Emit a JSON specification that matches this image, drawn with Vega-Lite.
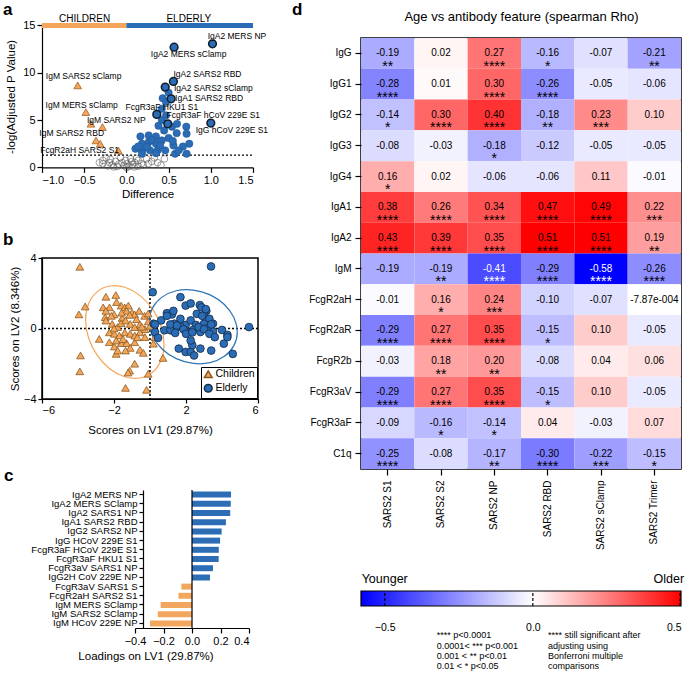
{
"$schema": "https://vega.github.io/schema/vega-lite/v6.json",
"padding": {"left": 2, "top": 0, "right": 0, "bottom": 0},
"columns": 2,
"align": "none",
"spacing": 22,
"resolve": {"scale": {"color": "independent", "fill": "independent", "stroke": "independent", "shape": "independent"}, "legend": {"color": "independent", "fill": "independent", "stroke": "independent", "shape": "independent"}},
"config": {
 "font": "Liberation Sans",
 "view": {"stroke": null},
 "axis": {"domainColor": "black", "tickColor": "black", "labelColor": "black", "titleColor": "black", "labelFontSize": 11, "titleFontSize": 11.5, "titleFontWeight": "normal", "grid": false, "tickSize": 5, "domainWidth": 1.2, "tickWidth": 1.2, "labelPadding": 2},
 "title": {"fontSize": 17, "fontWeight": "bold", "color": "black", "anchor": "start"}
},
"datasets": {
 "vbar": [{"g": "CHILDREN", "x1": -1, "x2": 0, "tx": -0.495, "ty": 15.7}, {"g": "ELDERLY", "x1": 0, "x2": 1.5, "tx": 0.74, "ty": 15.7}],
 "volcano": [
  {"d":-0.28,"p":0.74,"g":"N"},{"d":-0.24,"p":1.0,"g":"N"},{"d":-0.2,"p":0.52,"g":"N"},{"d":-0.13,"p":0.63,"g":"N"},{"d":-0.09,"p":0.35,"g":"N"},{"d":-0.03,"p":0.2,"g":"N"},{"d":0.01,"p":0.4,"g":"N"},{"d":0.07,"p":0.3,"g":"N"},{"d":0.1,"p":0.5,"g":"N"},{"d":0.14,"p":0.74,"g":"N"},{"d":0.18,"p":0.4,"g":"N"},{"d":0.24,"p":0.9,"g":"N"},{"d":0.3,"p":0.63,"g":"N"},{"d":0.37,"p":0.5,"g":"N"},{"d":0.45,"p":0.9,"g":"N"},{"d":-0.17,"p":0.25,"g":"N"},{"d":-0.11,"p":0.1,"g":"N"},{"d":-0.05,"p":0.5,"g":"N"},{"d":0.03,"p":0.1,"g":"N"},{"d":0.09,"p":0.05,"g":"N"},{"d":0.14,"p":0.12,"g":"N"},{"d":0.2,"p":0.25,"g":"N"},{"d":0.26,"p":0.4,"g":"N"},{"d":-0.28,"p":0.4,"g":"N"},{"d":-0.22,"p":0.15,"g":"N"},{"d":-0.01,"p":0.74,"g":"N"},{"d":0.05,"p":0.9,"g":"N"},{"d":-0.07,"p":1.05,"g":"N"},{"d":0.33,"p":1.0,"g":"N"},{"d":0.41,"p":0.25,"g":"N"},{"d":-0.32,"p":0.5,"g":"N"},{"d":-0.15,"p":0.05,"g":"N"},{"d":0.0,"p":0.0,"g":"N"},{"d":0.06,"p":0.6,"g":"N"},{"d":0.12,"p":0.95,"g":"N"},{"d":-0.19,"p":0.85,"g":"N"},
  {"d":0.43,"p":7.3,"g":"E"},{"d":0.5,"p":7.9,"g":"E"},{"d":0.47,"p":6.9,"g":"E"},{"d":0.42,"p":6.2,"g":"E"},{"d":0.47,"p":5.5,"g":"E"},{"d":0.42,"p":5.0,"g":"E"},{"d":0.54,"p":4.3,"g":"E"},{"d":0.71,"p":4.3,"g":"E"},{"d":0.166,"p":3.27,"g":"E"},{"d":0.264,"p":3.38,"g":"E"},{"d":0.35,"p":3.27,"g":"E"},{"d":0.447,"p":3.9,"g":"E"},{"d":0.596,"p":3.62,"g":"E"},{"d":0.713,"p":3.55,"g":"E"},{"d":0.745,"p":2.5,"g":"E"},{"d":0.557,"p":2.32,"g":"E"},{"d":0.67,"p":2.2,"g":"E"},{"d":0.185,"p":2.5,"g":"E"},{"d":0.264,"p":2.67,"g":"E"},{"d":0.35,"p":2.5,"g":"E"},{"d":0.42,"p":2.85,"g":"E"},{"d":0.5,"p":3.1,"g":"E"},{"d":0.185,"p":1.72,"g":"E"},{"d":0.28,"p":1.8,"g":"E"},{"d":0.37,"p":1.8,"g":"E"},{"d":0.46,"p":1.8,"g":"E"},{"d":0.577,"p":1.44,"g":"E"},{"d":0.713,"p":1.44,"g":"E"},{"d":0.107,"p":1.97,"g":"E"},{"d":0.245,"p":2.15,"g":"E"},{"d":0.4,"p":2.32,"g":"E"},{"d":0.185,"p":1.45,"g":"E"},{"d":0.35,"p":1.5,"g":"E"},{"d":0.3,"p":2.9,"g":"E"},{"d":0.55,"p":2.8,"g":"E"},{"d":0.62,"p":1.8,"g":"E"},{"d":0.14,"p":2.2,"g":"E"},{"d":0.6,"p":4.6,"g":"E"},{"d":0.38,"p":4.4,"g":"E"},
  {"d":1.02,"p":13.06,"g":"EL"},{"d":0.565,"p":12.7,"g":"EL"},{"d":0.557,"p":9.08,"g":"EL"},{"d":0.46,"p":8.48,"g":"EL"},{"d":0.53,"p":7.25,"g":"EL"},{"d":0.36,"p":5.6,"g":"EL"},{"d":0.49,"p":4.61,"g":"EL"},{"d":1.0,"p":4.68,"g":"EL"},
  {"d":-0.577,"p":8.66,"g":"C"},{"d":-0.48,"p":5.84,"g":"C"},{"d":-0.42,"p":4.61,"g":"C"},{"d":-0.284,"p":4.26,"g":"C"},{"d":-0.36,"p":2.85,"g":"C"},{"d":-0.31,"p":2.5,"g":"C"},{"d":-0.096,"p":1.8,"g":"C"}
 ],
 "vlabels": [
  {"lx":1.31,"ly":13.83,"t":"IgA2 MERS NP"},{"lx":0.737,"ly":11.93,"t":"IgA2 MERS sClamp"},{"lx":0.96,"ly":9.82,"t":"IgA2 SARS2 RBD"},{"lx":1.03,"ly":8.34,"t":"IgA2 SARS2 sClamp"},{"lx":0.98,"ly":7.29,"t":"IgA1 SARS2 RBD"},{"lx":0.42,"ly":6.34,"t":"FcgR3aF HKU1 S1"},{"lx":1.03,"ly":5.49,"t":"FcgR3aF hCoV 229E S1"},{"lx":1.25,"ly":3.9,"t":"IgG hCoV 229E S1"},{"lx":-0.507,"ly":9.61,"t":"IgM SARS2 sClamp"},{"lx":-0.53,"ly":6.55,"t":"IgM MERS sClamp"},{"lx":-0.12,"ly":4.96,"t":"IgM SARS2 NP"},{"lx":-0.648,"ly":3.59,"t":"IgM SARS2 RBD"},{"lx":-0.554,"ly":1.8,"t":"FcgR2aH SARS2 S1"}
 ],
 "pls": [
  {"x":-3.9,"y":3.5,"g":"Children"},{"x":-3.6,"y":1.25,"g":"Children"},{"x":-3.95,"y":0.8,"g":"Children"},{"x":-2.45,"y":1.8,"g":"Children"},{"x":-1.9,"y":1.9,"g":"Children"},{"x":-2.6,"y":1.2,"g":"Children"},{"x":-2.25,"y":1.2,"g":"Children"},{"x":-2.0,"y":0.8,"g":"Children"},{"x":-1.6,"y":1.3,"g":"Children"},{"x":-1.4,"y":1.2,"g":"Children"},{"x":-1.2,"y":1.3,"g":"Children"},{"x":-1.0,"y":0.9,"g":"Children"},{"x":-0.85,"y":0.8,"g":"Children"},{"x":-1.3,"y":1.0,"g":"Children"},{"x":-1.55,"y":0.6,"g":"Children"},{"x":-2.49,"y":0.64,"g":"Children"},{"x":-3.86,"y":-1.53,"g":"Children"},{"x":-3.9,"y":-2.43,"g":"Children"},{"x":-2.82,"y":-0.59,"g":"Children"},{"x":-2.26,"y":-0.78,"g":"Children"},{"x":-1.98,"y":-1.02,"g":"Children"},{"x":-1.88,"y":-1.44,"g":"Children"},{"x":-1.8,"y":-1.25,"g":"Children"},{"x":-1.6,"y":-0.83,"g":"Children"},{"x":-1.3,"y":-0.83,"g":"Children"},{"x":-1.1,"y":-1.1,"g":"Children"},{"x":-1.36,"y":-1.25,"g":"Children"},{"x":-0.85,"y":-0.78,"g":"Children"},{"x":-0.56,"y":-1.21,"g":"Children"},{"x":-0.37,"y":-1.38,"g":"Children"},{"x":0.19,"y":-0.86,"g":"Children"},{"x":0.28,"y":-0.49,"g":"Children"},{"x":0.72,"y":-1.67,"g":"Children"},{"x":-0.85,"y":-2.0,"g":"Children"},{"x":-1.13,"y":-2.39,"g":"Children"},{"x":-1.22,"y":-2.5,"g":"Children"},{"x":-0.1,"y":-2.57,"g":"Children"},{"x":-1.36,"y":-3.37,"g":"Children"},{"x":-0.19,"y":-3.48,"g":"Children"},{"x":-2.45,"y":1.0,"g":"Children"},{"x":-2.15,"y":0.72,"g":"Children"},{"x":-1.86,"y":1.5,"g":"Children"},{"x":-1.58,"y":0.9,"g":"Children"},{"x":-1.13,"y":0.77,"g":"Children"},{"x":-0.75,"y":0.53,"g":"Children"},{"x":-0.3,"y":0.72,"g":"Children"},{"x":-0.1,"y":0.4,"g":"Children"},{"x":-2.45,"y":0.45,"g":"Children"},{"x":-2.1,"y":0.26,"g":"Children"},{"x":-1.8,"y":0.08,"g":"Children"},{"x":-1.6,"y":0.3,"g":"Children"},{"x":-1.36,"y":0.45,"g":"Children"},{"x":-1.1,"y":0.26,"g":"Children"},{"x":-0.85,"y":0.08,"g":"Children"},{"x":-0.56,"y":0.23,"g":"Children"},{"x":-0.28,"y":-0.04,"g":"Children"},{"x":0.0,"y":0.15,"g":"Children"},{"x":-2.26,"y":-0.22,"g":"Children"},{"x":-1.98,"y":-0.3,"g":"Children"},{"x":-1.7,"y":-0.4,"g":"Children"},{"x":-1.4,"y":-0.22,"g":"Children"},{"x":-1.1,"y":-0.3,"g":"Children"},{"x":-0.85,"y":-0.4,"g":"Children"},{"x":-0.56,"y":-0.22,"g":"Children"},{"x":-0.28,"y":-0.49,"g":"Children"},{"x":-1.88,"y":-0.68,"g":"Children"},{"x":-0.1,"y":0.85,"g":"Children"},{"x":-0.6,"y":1.0,"g":"Children"},{"x":-0.45,"y":0.1,"g":"Children"},{"x":-0.7,"y":-0.5,"g":"Children"},{"x":-1.5,"y":-0.6,"g":"Children"},{"x":-2.0,"y":0.0,"g":"Children"},
  {"x":3.39,"y":3.52,"g":"Elderly"},{"x":0.15,"y":2.06,"g":"Elderly"},{"x":1.69,"y":1.78,"g":"Elderly"},{"x":1.98,"y":1.3,"g":"Elderly"},{"x":2.26,"y":1.42,"g":"Elderly"},{"x":2.77,"y":1.33,"g":"Elderly"},{"x":2.86,"y":1.2,"g":"Elderly"},{"x":3.13,"y":1.0,"g":"Elderly"},{"x":0.94,"y":0.87,"g":"Elderly"},{"x":1.22,"y":0.8,"g":"Elderly"},{"x":0.62,"y":0.46,"g":"Elderly"},{"x":0.2,"y":0.27,"g":"Elderly"},{"x":0.8,"y":-0.1,"g":"Elderly"},{"x":1.36,"y":0.27,"g":"Elderly"},{"x":1.69,"y":0.55,"g":"Elderly"},{"x":1.98,"y":0.2,"g":"Elderly"},{"x":2.26,"y":0.46,"g":"Elderly"},{"x":2.6,"y":0.83,"g":"Elderly"},{"x":3.0,"y":0.74,"g":"Elderly"},{"x":3.3,"y":0.55,"g":"Elderly"},{"x":3.0,"y":0.27,"g":"Elderly"},{"x":2.55,"y":0.2,"g":"Elderly"},{"x":1.69,"y":0.1,"g":"Elderly"},{"x":2.0,"y":-0.17,"g":"Elderly"},{"x":2.4,"y":-0.08,"g":"Elderly"},{"x":2.8,"y":-0.2,"g":"Elderly"},{"x":3.13,"y":0.0,"g":"Elderly"},{"x":3.5,"y":0.27,"g":"Elderly"},{"x":3.5,"y":-0.17,"g":"Elderly"},{"x":4.0,"y":-0.08,"g":"Elderly"},{"x":4.3,"y":-0.36,"g":"Elderly"},{"x":5.5,"y":0.08,"g":"Elderly"},{"x":1.13,"y":-0.1,"g":"Elderly"},{"x":1.4,"y":-0.25,"g":"Elderly"},{"x":0.28,"y":-0.2,"g":"Elderly"},{"x":0.28,"y":0.23,"g":"Elderly"},{"x":0.94,"y":0.72,"g":"Elderly"},{"x":1.3,"y":1.0,"g":"Elderly"},{"x":1.13,"y":0.23,"g":"Elderly"},{"x":1.5,"y":0.17,"g":"Elderly"},{"x":1.86,"y":-0.04,"g":"Elderly"},{"x":2.0,"y":-0.3,"g":"Elderly"},{"x":2.35,"y":-0.22,"g":"Elderly"},{"x":2.7,"y":0.08,"g":"Elderly"},{"x":3.0,"y":-0.04,"g":"Elderly"},{"x":3.4,"y":0.23,"g":"Elderly"},{"x":3.3,"y":-0.3,"g":"Elderly"},{"x":2.9,"y":0.72,"g":"Elderly"},{"x":3.1,"y":1.1,"g":"Elderly"},{"x":3.6,"y":-0.49,"g":"Elderly"},{"x":4.1,"y":-0.86,"g":"Elderly"},{"x":4.6,"y":-1.44,"g":"Elderly"},{"x":4.3,"y":-0.49,"g":"Elderly"},{"x":1.6,"y":-1.14,"g":"Elderly"},{"x":1.98,"y":-1.33,"g":"Elderly"},{"x":2.26,"y":-1.33,"g":"Elderly"},{"x":2.35,"y":-0.95,"g":"Elderly"},{"x":2.26,"y":-0.68,"g":"Elderly"},{"x":2.45,"y":-1.53,"g":"Elderly"},{"x":2.8,"y":-1.14,"g":"Elderly"},{"x":3.4,"y":-1.25,"g":"Elderly"},{"x":0.45,"y":-0.53,"g":"Elderly"}
 ],
 "ell": [
  {"i":0,"ex":0.78,"ey":-0.89,"g":"Children"},{"i":1,"ex":0.61,"ey":0.14,"g":"Children"},{"i":2,"ex":0.14,"ey":1.11,"g":"Children"},{"i":3,"ex":-0.57,"ey":1.88,"g":"Children"},{"i":4,"ex":-1.4,"ey":2.34,"g":"Children"},{"i":5,"ex":-2.24,"ey":2.41,"g":"Children"},{"i":6,"ex":-2.94,"ey":2.08,"g":"Children"},{"i":7,"ex":-3.41,"ey":1.41,"g":"Children"},{"i":8,"ex":-3.58,"ey":0.49,"g":"Children"},{"i":9,"ex":-3.41,"ey":-0.54,"g":"Children"},{"i":10,"ex":-2.94,"ey":-1.51,"g":"Children"},{"i":11,"ex":-2.24,"ey":-2.28,"g":"Children"},{"i":12,"ex":-1.4,"ey":-2.74,"g":"Children"},{"i":13,"ex":-0.57,"ey":-2.81,"g":"Children"},{"i":14,"ex":0.14,"ey":-2.48,"g":"Children"},{"i":15,"ex":0.61,"ey":-1.81,"g":"Children"},
  {"i":0,"ex":4.85,"ey":-0.2,"g":"Elderly"},{"i":1,"ex":4.66,"ey":0.62,"g":"Elderly"},{"i":2,"ex":4.13,"ey":1.36,"g":"Elderly"},{"i":3,"ex":3.34,"ey":1.91,"g":"Elderly"},{"i":4,"ex":2.4,"ey":2.18,"g":"Elderly"},{"i":5,"ex":1.46,"ey":2.14,"g":"Elderly"},{"i":6,"ex":0.67,"ey":1.78,"g":"Elderly"},{"i":7,"ex":0.14,"ey":1.17,"g":"Elderly"},{"i":8,"ex":-0.05,"ey":0.4,"g":"Elderly"},{"i":9,"ex":0.14,"ey":-0.42,"g":"Elderly"},{"i":10,"ex":0.67,"ey":-1.16,"g":"Elderly"},{"i":11,"ex":1.46,"ey":-1.71,"g":"Elderly"},{"i":12,"ex":2.4,"ey":-1.98,"g":"Elderly"},{"i":13,"ex":3.34,"ey":-1.94,"g":"Elderly"},{"i":14,"ex":4.13,"ey":-1.58,"g":"Elderly"},{"i":15,"ex":4.66,"ey":-0.97,"g":"Elderly"}
 ],
 "load": [
  {"f":"IgA2 MERS NP","v":0.274,"g":"Elderly"},{"f":"IgA2 MERS SClamp","v":0.272,"g":"Elderly"},{"f":"IgA2 SARS1 NP","v":0.268,"g":"Elderly"},{"f":"IgA1 SARS2 RBD","v":0.238,"g":"Elderly"},{"f":"IgG2 SARS2 NP","v":0.208,"g":"Elderly"},{"f":"IgG HCoV 229E S1","v":0.197,"g":"Elderly"},{"f":"FcgR3aF HCoV 229E S1","v":0.188,"g":"Elderly"},{"f":"FcgR3aF HKU1 S1","v":0.187,"g":"Elderly"},{"f":"FcgR3aV SARS1 NP","v":0.147,"g":"Elderly"},{"f":"IgG2H CoV 229E NP","v":0.126,"g":"Elderly"},{"f":"FcgR3aV SARS1 S","v":-0.075,"g":"Children"},{"f":"FcgR2aH SARS2 S1","v":-0.095,"g":"Children"},{"f":"IgM MERS SClamp","v":-0.22,"g":"Children"},{"f":"IgM SARS2 SClamp","v":-0.24,"g":"Children"},{"f":"IgM HCoV 229E NP","v":-0.295,"g":"Children"}
 ],
 "heat": [
  {"r":"IgG","c":"SARS2 S1","v":-0.19,"l":"-0.19","s":"**"},{"r":"IgG","c":"SARS2 S2","v":0.02,"l":"0.02","s":""},{"r":"IgG","c":"SARS2 NP","v":0.27,"l":"0.27","s":"****"},{"r":"IgG","c":"SARS2 RBD","v":-0.16,"l":"-0.16","s":"*"},{"r":"IgG","c":"SARS2 sClamp","v":-0.07,"l":"-0.07","s":""},{"r":"IgG","c":"SARS2 Trimer","v":-0.21,"l":"-0.21","s":"**"},
  {"r":"IgG1","c":"SARS2 S1","v":-0.28,"l":"-0.28","s":"****"},{"r":"IgG1","c":"SARS2 S2","v":0.01,"l":"0.01","s":""},{"r":"IgG1","c":"SARS2 NP","v":0.30,"l":"0.30","s":"****"},{"r":"IgG1","c":"SARS2 RBD","v":-0.26,"l":"-0.26","s":"****"},{"r":"IgG1","c":"SARS2 sClamp","v":-0.05,"l":"-0.05","s":""},{"r":"IgG1","c":"SARS2 Trimer","v":-0.06,"l":"-0.06","s":""},
  {"r":"IgG2","c":"SARS2 S1","v":-0.14,"l":"-0.14","s":"*"},{"r":"IgG2","c":"SARS2 S2","v":0.30,"l":"0.30","s":"****"},{"r":"IgG2","c":"SARS2 NP","v":0.40,"l":"0.40","s":"****"},{"r":"IgG2","c":"SARS2 RBD","v":-0.18,"l":"-0.18","s":"**"},{"r":"IgG2","c":"SARS2 sClamp","v":0.23,"l":"0.23","s":"***"},{"r":"IgG2","c":"SARS2 Trimer","v":0.10,"l":"0.10","s":""},
  {"r":"IgG3","c":"SARS2 S1","v":-0.08,"l":"-0.08","s":""},{"r":"IgG3","c":"SARS2 S2","v":-0.03,"l":"-0.03","s":""},{"r":"IgG3","c":"SARS2 NP","v":-0.18,"l":"-0.18","s":"*"},{"r":"IgG3","c":"SARS2 RBD","v":-0.12,"l":"-0.12","s":""},{"r":"IgG3","c":"SARS2 sClamp","v":-0.05,"l":"-0.05","s":""},{"r":"IgG3","c":"SARS2 Trimer","v":-0.05,"l":"-0.05","s":""},
  {"r":"IgG4","c":"SARS2 S1","v":0.16,"l":"0.16","s":"*"},{"r":"IgG4","c":"SARS2 S2","v":0.02,"l":"0.02","s":""},{"r":"IgG4","c":"SARS2 NP","v":-0.06,"l":"-0.06","s":""},{"r":"IgG4","c":"SARS2 RBD","v":-0.06,"l":"-0.06","s":""},{"r":"IgG4","c":"SARS2 sClamp","v":0.11,"l":"0.11","s":""},{"r":"IgG4","c":"SARS2 Trimer","v":-0.01,"l":"-0.01","s":""},
  {"r":"IgA1","c":"SARS2 S1","v":0.38,"l":"0.38","s":"****"},{"r":"IgA1","c":"SARS2 S2","v":0.26,"l":"0.26","s":"****"},{"r":"IgA1","c":"SARS2 NP","v":0.34,"l":"0.34","s":"****"},{"r":"IgA1","c":"SARS2 RBD","v":0.47,"l":"0.47","s":"****"},{"r":"IgA1","c":"SARS2 sClamp","v":0.49,"l":"0.49","s":"****"},{"r":"IgA1","c":"SARS2 Trimer","v":0.22,"l":"0.22","s":"***"},
  {"r":"IgA2","c":"SARS2 S1","v":0.43,"l":"0.43","s":"****"},{"r":"IgA2","c":"SARS2 S2","v":0.39,"l":"0.39","s":"****"},{"r":"IgA2","c":"SARS2 NP","v":0.35,"l":"0.35","s":"****"},{"r":"IgA2","c":"SARS2 RBD","v":0.51,"l":"0.51","s":"****"},{"r":"IgA2","c":"SARS2 sClamp","v":0.51,"l":"0.51","s":"****"},{"r":"IgA2","c":"SARS2 Trimer","v":0.19,"l":"0.19","s":"**"},
  {"r":"IgM","c":"SARS2 S1","v":-0.19,"l":"-0.19","s":""},{"r":"IgM","c":"SARS2 S2","v":-0.19,"l":"-0.19","s":"**"},{"r":"IgM","c":"SARS2 NP","v":-0.41,"l":"-0.41","s":"****"},{"r":"IgM","c":"SARS2 RBD","v":-0.29,"l":"-0.29","s":"****"},{"r":"IgM","c":"SARS2 sClamp","v":-0.58,"l":"-0.58","s":"****"},{"r":"IgM","c":"SARS2 Trimer","v":-0.26,"l":"-0.26","s":"****"},
  {"r":"FcgR2aH","c":"SARS2 S1","v":-0.01,"l":"-0.01","s":""},{"r":"FcgR2aH","c":"SARS2 S2","v":0.16,"l":"0.16","s":"*"},{"r":"FcgR2aH","c":"SARS2 NP","v":0.24,"l":"0.24","s":"***"},{"r":"FcgR2aH","c":"SARS2 RBD","v":-0.10,"l":"-0.10","s":""},{"r":"FcgR2aH","c":"SARS2 sClamp","v":-0.07,"l":"-0.07","s":""},{"r":"FcgR2aH","c":"SARS2 Trimer","v":-0.000787,"l":"-7.87e-004","s":""},
  {"r":"FcgR2aR","c":"SARS2 S1","v":-0.29,"l":"-0.29","s":"****"},{"r":"FcgR2aR","c":"SARS2 S2","v":0.27,"l":"0.27","s":"****"},{"r":"FcgR2aR","c":"SARS2 NP","v":0.35,"l":"0.35","s":"****"},{"r":"FcgR2aR","c":"SARS2 RBD","v":-0.15,"l":"-0.15","s":"*"},{"r":"FcgR2aR","c":"SARS2 sClamp","v":0.10,"l":"0.10","s":""},{"r":"FcgR2aR","c":"SARS2 Trimer","v":-0.05,"l":"-0.05","s":""},
  {"r":"FcgR2b","c":"SARS2 S1","v":-0.03,"l":"-0.03","s":""},{"r":"FcgR2b","c":"SARS2 S2","v":0.18,"l":"0.18","s":"**"},{"r":"FcgR2b","c":"SARS2 NP","v":0.20,"l":"0.20","s":"**"},{"r":"FcgR2b","c":"SARS2 RBD","v":-0.08,"l":"-0.08","s":""},{"r":"FcgR2b","c":"SARS2 sClamp","v":0.04,"l":"0.04","s":""},{"r":"FcgR2b","c":"SARS2 Trimer","v":0.06,"l":"0.06","s":""},
  {"r":"FcgR3aV","c":"SARS2 S1","v":-0.29,"l":"-0.29","s":"****"},{"r":"FcgR3aV","c":"SARS2 S2","v":0.27,"l":"0.27","s":"****"},{"r":"FcgR3aV","c":"SARS2 NP","v":0.35,"l":"0.35","s":"****"},{"r":"FcgR3aV","c":"SARS2 RBD","v":-0.15,"l":"-0.15","s":"*"},{"r":"FcgR3aV","c":"SARS2 sClamp","v":0.10,"l":"0.10","s":""},{"r":"FcgR3aV","c":"SARS2 Trimer","v":-0.05,"l":"-0.05","s":""},
  {"r":"FcgR3aF","c":"SARS2 S1","v":-0.09,"l":"-0.09","s":""},{"r":"FcgR3aF","c":"SARS2 S2","v":-0.16,"l":"-0.16","s":"*"},{"r":"FcgR3aF","c":"SARS2 NP","v":-0.14,"l":"-0.14","s":"*"},{"r":"FcgR3aF","c":"SARS2 RBD","v":0.04,"l":"0.04","s":""},{"r":"FcgR3aF","c":"SARS2 sClamp","v":-0.03,"l":"-0.03","s":""},{"r":"FcgR3aF","c":"SARS2 Trimer","v":0.07,"l":"0.07","s":""},
  {"r":"C1q","c":"SARS2 S1","v":-0.25,"l":"-0.25","s":"****"},{"r":"C1q","c":"SARS2 S2","v":-0.08,"l":"-0.08","s":""},{"r":"C1q","c":"SARS2 NP","v":-0.17,"l":"-0.17","s":"**"},{"r":"C1q","c":"SARS2 RBD","v":-0.30,"l":"-0.30","s":"****"},{"r":"C1q","c":"SARS2 sClamp","v":-0.22,"l":"-0.22","s":"***"},{"r":"C1q","c":"SARS2 Trimer","v":-0.15,"l":"-0.15","s":"*"}
 ],
 "ends": [{"x": -0.5, "y": 1.8, "t": "Younger"}, {"x": 0.459, "y": 1.8, "t": "Older"}],
 "notes": [
  {"x": -0.324, "y": -1.93, "t": "**** p<0.0001"}, {"x": -0.324, "y": -2.67, "t": "0.0001< *** p<0.001"}, {"x": -0.324, "y": -3.33, "t": "0.001 < ** p<0.01"}, {"x": -0.324, "y": -4.0, "t": "0.01 < * p<0.05"},
  {"x": 0.051, "y": -1.93, "t": "**** still significant after"}, {"x": 0.051, "y": -2.67, "t": "adjusting using"}, {"x": 0.051, "y": -3.33, "t": "Bonferroni multiple"}, {"x": 0.051, "y": -4.0, "t": "comparisons"}
 ]
},
"concat": [
 {
  "spacing": 30,
  "resolve": {"scale": {"color": "independent", "fill": "independent", "stroke": "independent", "shape": "independent"}, "legend": {"color": "independent", "fill": "independent", "stroke": "independent", "shape": "independent"}},
  "vconcat": [
   {
    "width": 211, "height": 129.4,
    "title": {"text": "a", "frame": "group", "anchor": "start", "dx": -39, "offset": -18.4, "baseline": "alphabetic"},
    "layer": [
     {"data": {"name": "vbar"}, "mark": {"type": "rule", "strokeWidth": 5},
      "encoding": {
       "x": {"field": "x1", "type": "quantitative", "scale": {"domain": [-1, 1.5], "nice": false, "zero": false}, "axis": {"values": [-1, -0.5, 0, 0.5, 1, 1.5], "format": ".1f", "title": "Difference", "titlePadding": 3}},
       "x2": {"field": "x2"},
       "y": {"datum": 15, "type": "quantitative", "scale": {"domain": [0, 15], "nice": false, "range": [129.4, -12.6]}, "axis": {"values": [0, 5, 10, 15], "title": "-log(Adjusted P Value)", "titlePadding": 6}},
       "color": {"condition": {"test": "datum.g == 'CHILDREN'", "value": "#f5a55a"}, "value": "#2a6cb5"}
      }},
     {"data": {"name": "vbar"}, "mark": {"type": "text", "fontSize": 10, "color": "black"},
      "encoding": {"x": {"field": "tx", "type": "quantitative"}, "y": {"field": "ty", "type": "quantitative"}, "text": {"field": "g"}}},
     {"data": {"values": [{"thr": 1.3, "a": -1, "b": 1.5}]}, "mark": {"type": "rule", "strokeDash": [2, 2], "color": "black", "strokeWidth": 1.2},
      "encoding": {"y": {"field": "thr", "type": "quantitative"}, "x": {"field": "a", "type": "quantitative"}, "x2": {"field": "b"}}},
     {"data": {"name": "volcano"}, "transform": [{"filter": "datum.g == 'N'"}], "mark": {"type": "point", "shape": "circle", "filled": false, "stroke": "#555555", "strokeWidth": 0.8, "size": 45},
      "encoding": {"x": {"field": "d", "type": "quantitative"}, "y": {"field": "p", "type": "quantitative"}}},
     {"data": {"name": "volcano"}, "transform": [{"filter": "datum.g == 'E'"}], "mark": {"type": "point", "shape": "circle", "filled": true, "fill": "#2a6cb5", "stroke": "#1f558f", "strokeWidth": 0.5, "size": 55, "opacity": 1},
      "encoding": {"x": {"field": "d", "type": "quantitative"}, "y": {"field": "p", "type": "quantitative"}}},
     {"data": {"name": "volcano"}, "transform": [{"filter": "datum.g == 'EL'"}], "mark": {"type": "point", "shape": "circle", "filled": true, "fill": "#2a6cb5", "stroke": "#111d2b", "strokeWidth": 1.5, "size": 60, "opacity": 1},
      "encoding": {"x": {"field": "d", "type": "quantitative"}, "y": {"field": "p", "type": "quantitative"}}},
     {"data": {"name": "volcano"}, "transform": [{"filter": "datum.g == 'C'"}], "mark": {"type": "point", "shape": "triangle-up", "filled": true, "fill": "#f5a55a", "stroke": "#a0632a", "strokeWidth": 0.8, "size": 60, "opacity": 1},
      "encoding": {"x": {"field": "d", "type": "quantitative"}, "y": {"field": "p", "type": "quantitative"}}},
     {"data": {"name": "vlabels"}, "mark": {"type": "text", "fontSize": 8.5, "color": "black"},
      "encoding": {"x": {"field": "lx", "type": "quantitative"}, "y": {"field": "ly", "type": "quantitative"}, "text": {"field": "t"}}}
    ]
   },
   {
    "width": 216, "height": 141,
    "view": {"stroke": "black", "strokeWidth": 1.5},
    "title": {"text": "b", "frame": "group", "anchor": "start", "dx": -39, "offset": -10, "baseline": "alphabetic"},
    "layer": [
     {"data": {"values": [{"z": 0}]}, "mark": {"type": "rule", "strokeDash": [2, 2], "color": "black", "strokeWidth": 1.5},
      "encoding": {"x": {"field": "z", "type": "quantitative", "scale": {"domain": [-6, 6], "nice": false}, "axis": {"values": [-6, -4, -2, 0, 2, 4, 6], "title": "Scores on LV1 (29.87%)", "tickSize": 4, "labelPadding": 1, "titlePadding": 9}}}},
     {"data": {"values": [{"z": 0}]}, "mark": {"type": "rule", "strokeDash": [2, 2], "color": "black", "strokeWidth": 1.5},
      "encoding": {"y": {"field": "z", "type": "quantitative", "scale": {"domain": [-4, 4], "nice": false}, "axis": {"values": [-4, -2, 0, 2, 4], "title": "Scores on LV2 (8.346%)", "tickSize": 4, "titlePadding": 3}}}},
     {"data": {"name": "ell"}, "transform": [{"filter": "datum.g == 'Children'"}], "mark": {"type": "line", "interpolate": "cardinal-closed", "color": "#f5a55a", "strokeWidth": 1.2},
      "encoding": {"x": {"field": "ex", "type": "quantitative"}, "y": {"field": "ey", "type": "quantitative"}, "order": {"field": "i", "type": "quantitative"}}},
     {"data": {"name": "ell"}, "transform": [{"filter": "datum.g == 'Elderly'"}], "mark": {"type": "line", "interpolate": "cardinal-closed", "color": "#2e75b6", "strokeWidth": 1.2},
      "encoding": {"x": {"field": "ex", "type": "quantitative"}, "y": {"field": "ey", "type": "quantitative"}, "order": {"field": "i", "type": "quantitative"}}},
     {"data": {"name": "pls"}, "mark": {"type": "point", "filled": true, "size": 60, "strokeWidth": 0.8, "opacity": 1},
      "encoding": {
       "x": {"field": "x", "type": "quantitative"}, "y": {"field": "y", "type": "quantitative"},
       "shape": {"field": "g", "type": "nominal", "scale": {"domain": ["Children", "Elderly"], "range": ["triangle-up", "circle"]},
        "legend": {"orient": "bottom-right", "title": null, "offset": 1, "padding": 2, "strokeColor": "black", "fillColor": "white", "labelFontSize": 10.5, "symbolSize": 60, "rowPadding": 0, "labelOffset": 2, "labelColor": "black"}},
       "fill": {"field": "g", "type": "nominal", "scale": {"domain": ["Children", "Elderly"], "range": ["#f5a55a", "#2a6cb5"]}},
       "stroke": {"field": "g", "type": "nominal", "scale": {"domain": ["Children", "Elderly"], "range": ["#8a5a20", "#142c48"]}}
      }}
    ]
   },
   {
    "width": 207, "height": 138,
    "title": {"text": "c", "frame": "group", "anchor": "start", "dx": -38, "offset": -9, "baseline": "alphabetic"},
    "layer": [
     {"data": {"name": "load"}, "mark": {"type": "bar"},
      "encoding": {
       "y": {"field": "f", "type": "nominal", "sort": null, "scale": {"paddingInner": 0.35, "paddingOuter": 0.175}, "axis": {"title": null, "offset": -101, "labelFontSize": 9.5, "tickSize": 4, "labelPadding": 2}},
       "x": {"field": "v", "type": "quantitative", "scale": {"domain": [-1.053, 0.4], "nice": false, "zero": false}, "axis": {"values": [-0.4, -0.2, 0, 0.2, 0.4], "format": ".1f", "title": "Loadings on LV1 (29.87%)", "domainDash": [0, 93, 400], "titlePadding": 4}},
       "x2": {"datum": 0},
       "color": {"condition": {"test": "datum.g == 'Elderly'", "value": "#2c6db5"}, "value": "#f2a65e"}
      }},
     {"data": {"values": [{"z": 0}]}, "mark": {"type": "rule", "color": "black", "strokeWidth": 1.2},
      "encoding": {"x": {"field": "z", "type": "quantitative"}}}
    ]
   }
  ]
 },
 {
  "spacing": 22,
  "resolve": {"scale": {"color": "independent", "fill": "independent", "stroke": "independent"}, "legend": {"color": "independent", "fill": "independent", "stroke": "independent"}},
  "vconcat": [
   {
    "width": 320, "height": 431,
    "view": {"stroke": "black", "strokeWidth": 1.5},
    "title": {"text": "d", "frame": "group", "anchor": "start", "dx": -69, "offset": -21.5, "baseline": "alphabetic"},
    "data": {"name": "heat"},
    "encoding": {
     "x": {"field": "c", "type": "nominal", "sort": ["SARS2 S1", "SARS2 S2", "SARS2 NP", "SARS2 RBD", "SARS2 sClamp", "SARS2 Trimer"], "scale": {"paddingInner": 0, "paddingOuter": 0}, "axis": {"title": null, "labelAngle": -90, "domain": false, "tickSize": 6, "labelFontSize": 10, "labelPadding": 5}},
     "y": {"field": "r", "type": "nominal", "sort": ["IgG", "IgG1", "IgG2", "IgG3", "IgG4", "IgA1", "IgA2", "IgM", "FcgR2aH", "FcgR2aR", "FcgR2b", "FcgR3aV", "FcgR3aF", "C1q"], "scale": {"paddingInner": 0, "paddingOuter": 0}, "axis": {"title": "Age vs antibody feature  (spearman Rho)", "titleAngle": 0, "titleX": 160, "titleY": -17.5, "titleAlign": "center", "titleBaseline": "alphabetic", "titleFontSize": 13, "titleFontWeight": "normal", "domain": false, "tickSize": 6, "labelFontSize": 10, "labelPadding": 4}}
    },
    "layer": [
     {"mark": {"type": "rect"}, "encoding": {"fill": {"field": "v", "type": "quantitative", "scale": {"domain": [-0.58, 0, 0.5], "range": ["#0000ff", "#ffffff", "#ff0000"], "interpolate": "rgb", "clamp": true}, "legend": null}}},
     {"mark": {"type": "text", "fontSize": 10, "baseline": "middle"}, "encoding": {"text": {"field": "l"}, "color": {"condition": {"test": "datum.v < -0.35", "value": "white"}, "value": "black"}}},
     {"mark": {"type": "text", "fontSize": 14, "baseline": "alphabetic", "dy": 17.5}, "encoding": {"text": {"field": "s"}, "color": {"condition": {"test": "datum.v < -0.35", "value": "white"}, "value": "black"}}}
    ]
   },
   {
    "width": 320, "height": 15,
    "layer": [
     {"data": {"values": [{"lo": -0.58, "hi": 0.5}]},
      "mark": {"type": "rect", "stroke": "black", "strokeWidth": 1.2, "fill": {"gradient": "linear", "x1": 0, "y1": 0, "x2": 1, "y2": 0, "stops": [{"offset": 0, "color": "#0000ff"}, {"offset": 0.537, "color": "#ffffff"}, {"offset": 1, "color": "#ff0000"}]}},
      "encoding": {
       "x": {"field": "lo", "type": "quantitative", "scale": {"domain": [-0.58, 0.5], "nice": false, "zero": false}, "axis": {"values": [-0.5, 0, 0.5], "tickSize": 0, "labelPadding": 16, "domain": false, "title": null, "labelFontSize": 10.5}},
       "x2": {"field": "hi"},
       "y": {"datum": 0, "type": "quantitative", "scale": {"domain": [0, 1], "nice": false, "zero": false}, "axis": null},
       "y2": {"datum": 1}
      }},
     {"data": {"values": [{"t": -0.5}, {"t": 0}, {"t": 0.497}]}, "mark": {"type": "rule", "strokeDash": [3, 2], "strokeWidth": 1.2, "color": "black"},
      "encoding": {"x": {"field": "t", "type": "quantitative"}, "y": {"datum": 0}, "y2": {"datum": 1}}},
     {"data": {"name": "ends"}, "mark": {"type": "text", "fontSize": 12.5, "baseline": "middle", "color": "black"},
      "encoding": {"x": {"field": "x", "type": "quantitative"}, "y": {"field": "y", "type": "quantitative"}, "text": {"field": "t"}}},
     {"data": {"name": "notes"}, "mark": {"type": "text", "fontSize": 9, "align": "left", "baseline": "middle", "color": "black"},
      "encoding": {"x": {"field": "x", "type": "quantitative"}, "y": {"field": "y", "type": "quantitative"}, "text": {"field": "t"}}}
    ]
   }
  ]
 }
]
}
